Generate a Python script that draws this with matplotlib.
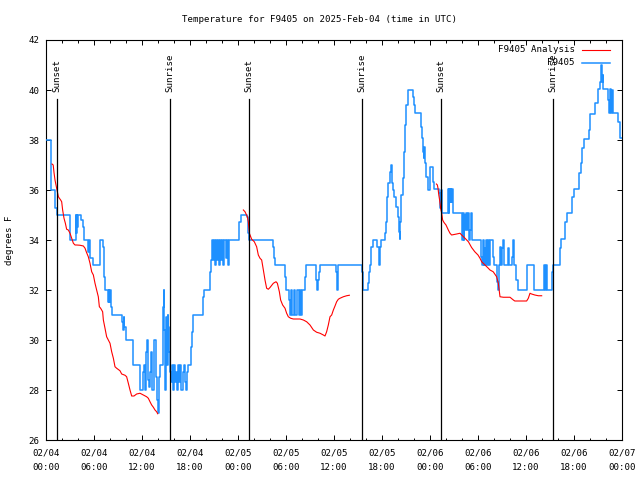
import numpy as np
import matplotlib
matplotlib.use("Agg")
import matplotlib.pyplot as plt
from matplotlib.lines import Line2D
from datetime import datetime, timedelta

# ---------------- data (hours since 2025-02-04 00:00 UTC, deg F) ----------------
# station observations (step series): (hour, temperature)
obs = [(0, 38.0), (0.58, 37.5), (0.67, 36.0), (1.125, 35.3), (1.42, 35.0), (2.96, 34.0), (3.75, 35.0),
       (3.8, 34.3), (3.85, 35.0), (3.92, 34.5), (4.0, 35.0), (4.42, 34.8), (4.58, 34.5), (4.75, 34.0),
       (5.29, 33.5), (5.4, 34.0), (5.5, 33.3), (5.875, 33.0), (6.75, 34.0), (7.08, 33.7), (7.25, 32.5),
       (7.42, 32.0), (7.75, 31.5), (7.83, 32.0), (7.92, 31.5), (8.0, 32.0), (8.08, 31.3), (8.21, 31.0),
       (9.54, 30.7), (9.62, 30.4), (9.7, 30.9), (9.8, 30.5), (10.0, 30.0), (10.83, 29.0), (11.8, 28.0),
       (12.125, 28.7), (12.2, 29.0), (12.33, 28.3), (12.42, 28.0), (12.54, 29.5), (12.67, 30.0),
       (12.79, 28.4), (12.9, 28.1), (13.0, 28.7), (13.08, 29.5), (13.21, 29.0), (13.29, 28.0),
       (13.5, 30.0), (13.79, 28.5), (13.92, 27.6), (14.0, 27.07), (14.125, 28.5), (14.21, 29.0),
       (14.625, 31.3), (14.71, 32.0), (14.79, 30.4), (14.875, 28.0), (14.96, 30.9), (15.08, 29.0),
       (15.21, 31.0), (15.29, 30.5), (15.375, 29.5), (15.54, 28.7), (15.67, 28.3), (15.79, 29.0),
       (15.92, 28.0), (16.04, 29.0), (16.17, 28.3), (16.29, 28.7), (16.42, 28.0), (16.54, 29.0),
       (16.67, 28.3), (16.79, 29.0), (16.92, 28.0), (17.17, 28.7), (17.29, 29.0), (17.42, 28.3),
       (17.54, 28.0), (17.67, 28.7), (17.79, 29.0), (18.08, 29.7), (18.21, 30.3), (18.375, 31.0),
       (19.67, 31.7), (19.79, 32.0), (20.46, 32.7), (20.625, 33.2), (20.71, 33.7), (20.79, 34.0),
       (20.92, 33.2), (21.04, 34.0), (21.17, 33.0), (21.29, 34.0), (21.42, 33.2), (21.54, 34.0),
       (21.67, 33.0), (21.79, 34.0), (21.92, 33.2), (22.04, 34.0), (22.17, 33.0), (22.29, 34.0),
       (22.54, 33.3), (22.67, 34.0), (22.79, 33.0), (22.92, 34.0), (24.17, 34.7), (24.375, 35.0),
       (25.08, 34.9), (25.21, 34.7), (25.29, 34.3), (25.42, 34.0), (28.42, 33.7), (28.54, 33.3),
       (28.67, 33.0), (29.92, 32.5), (30.0, 32.0), (30.42, 31.6), (30.54, 31.0), (30.67, 32.0),
       (30.75, 31.0), (30.96, 32.0), (31.08, 31.0), (31.375, 32.0), (31.67, 31.0), (31.79, 32.0),
       (31.92, 31.0), (32.0, 32.0), (32.42, 32.5), (32.5, 33.0), (33.75, 32.4), (33.875, 32.0),
       (34.0, 32.4), (34.17, 32.7), (34.29, 33.0), (36.25, 32.7), (36.375, 32.0), (36.46, 32.7),
       (36.54, 33.0), (39.46, 32.7), (39.58, 32.27), (39.67, 32.0), (40.21, 32.27), (40.33, 32.7),
       (40.46, 33.0), (40.625, 33.73), (40.83, 34.0), (41.375, 33.73), (41.58, 33.0), (41.71, 33.73),
       (41.875, 34.0), (42.375, 34.27), (42.5, 34.73), (42.625, 35.73), (42.79, 36.27), (42.96, 36.73),
       (43.125, 37.0), (43.21, 36.27), (43.375, 36.0), (43.54, 35.73), (43.75, 35.33), (43.96, 34.93),
       (44.08, 34.33), (44.21, 34.03), (44.29, 34.73), (44.42, 35.8), (44.58, 36.47), (44.71, 37.53),
       (44.875, 38.6), (45.04, 39.4), (45.21, 40.0), (45.875, 39.73), (46.04, 39.4), (46.17, 39.07),
       (46.875, 38.53), (47.0, 38.07), (47.125, 37.53), (47.21, 37.27), (47.29, 37.73), (47.42, 37.07),
       (47.54, 36.53), (47.71, 36.0), (48.0, 36.9), (48.33, 36.3), (48.54, 36.05), (49.17, 35.87),
       (49.29, 35.27), (49.375, 36.0), (49.5, 35.07), (50.21, 36.03), (50.33, 35.07), (50.42, 36.03),
       (50.5, 35.5), (50.58, 36.03), (50.67, 35.5), (50.75, 36.03), (50.83, 35.07), (52.0, 34.0),
       (52.08, 35.07), (52.21, 34.0), (52.29, 35.0), (52.42, 34.4), (52.5, 35.07), (52.625, 34.4),
       (52.71, 35.07), (52.83, 34.0), (53.0, 34.4), (53.125, 35.07), (53.25, 34.0), (54.375, 33.33),
       (54.5, 33.0), (54.58, 34.0), (54.71, 33.0), (54.79, 33.67), (54.92, 33.0), (55.0, 34.0),
       (55.125, 33.0), (55.21, 34.0), (55.33, 33.33), (55.42, 33.0), (55.54, 34.0), (55.83, 33.33),
       (56.04, 33.0), (56.33, 32.33), (56.46, 32.0), (56.58, 33.0), (56.75, 33.73), (56.875, 33.0),
       (57.0, 33.67), (57.17, 34.0), (57.29, 33.0), (57.71, 33.67), (57.92, 33.0), (58.25, 33.33),
       (58.42, 34.0), (58.54, 33.0), (58.75, 32.4), (58.96, 32.0), (60.125, 33.0), (60.96, 32.0),
       (62.21, 33.0), (62.375, 32.0), (62.5, 33.0), (62.625, 32.0), (63.21, 32.7), (63.33, 33.0),
       (64.29, 33.67), (64.375, 34.03), (64.875, 34.7), (65.125, 35.07), (65.71, 35.73), (65.96, 36.03),
       (66.67, 36.67), (66.875, 37.07), (67.0, 37.67), (67.21, 38.03), (67.92, 38.4), (68.04, 39.04),
       (68.625, 39.47), (69.04, 40.03), (69.2, 40.3), (69.375, 41.0), (69.46, 40.6), (69.54, 40.33),
       (69.6, 40.6), (69.67, 40.03), (70.29, 39.6), (70.42, 39.07), (70.54, 40.03), (70.625, 39.07),
       (70.7, 40.0), (70.83, 39.07), (71.54, 38.73), (71.71, 38.07), (72.0, 38.07)]

# analysis (three separate overnight segments)
ana_seg1 = [(0.75, 37.04), (0.9, 37.0), (1.0, 36.7), (1.125, 36.4), (1.25, 36.2), (1.42, 35.93),
            (1.55, 35.73), (1.67, 35.67), (1.83, 35.6), (1.96, 35.53), (2.08, 35.2), (2.25, 34.87),
            (2.42, 34.67), (2.58, 34.43), (2.79, 34.4), (3.0, 34.27), (3.21, 34.07), (3.42, 33.87),
            (3.63, 33.8), (3.83, 33.8), (4.25, 33.79), (4.67, 33.76), (4.88, 33.67), (5.08, 33.49),
            (5.29, 33.33), (5.5, 33.07), (5.71, 32.73), (5.92, 32.6), (6.125, 32.27), (6.33, 32.0),
            (6.54, 31.73), (6.67, 31.33), (6.83, 31.27), (7.08, 31.13), (7.17, 30.8), (7.375, 30.47),
            (7.58, 30.13), (7.79, 30.0), (8.0, 29.87), (8.21, 29.53), (8.42, 29.27), (8.625, 28.93),
            (8.83, 28.87), (9.25, 28.77), (9.46, 28.64), (9.875, 28.59), (10.08, 28.53), (10.29, 28.27),
            (10.5, 28.0), (10.71, 27.76), (11.0, 27.76), (11.33, 27.84), (11.75, 27.87), (12.17, 27.8),
            (12.58, 27.73), (12.79, 27.67), (13.0, 27.53), (13.21, 27.4), (13.42, 27.31), (13.625, 27.2),
            (13.83, 27.13), (13.96, 27.05)]
ana_seg2 = [(24.67, 35.2), (24.875, 35.13), (25.17, 34.93), (25.29, 34.73), (25.42, 34.27), (25.71, 34.03),
            (26.04, 33.93), (26.33, 33.73), (26.54, 33.4), (26.75, 33.27), (26.96, 33.2), (27.17, 32.8),
            (27.375, 32.4), (27.58, 32.07), (27.79, 32.03), (28.0, 32.1), (28.42, 32.27), (28.75, 32.33),
            (28.92, 32.27), (29.17, 31.93), (29.33, 31.6), (29.58, 31.4), (29.875, 31.27), (30.08, 31.07),
            (30.29, 30.93), (30.58, 30.87), (30.92, 30.84), (31.75, 30.84), (32.17, 30.8), (32.58, 30.73),
            (33.0, 30.6), (33.42, 30.4), (33.83, 30.31), (34.25, 30.27), (34.67, 30.2), (34.875, 30.16),
            (35.08, 30.33), (35.29, 30.6), (35.5, 30.93), (35.71, 31.0), (35.92, 31.2), (36.125, 31.36),
            (36.33, 31.53), (36.54, 31.63), (36.75, 31.67), (37.17, 31.73), (37.58, 31.77), (37.92, 31.79)]
ana_seg3 = [(48.8, 36.24), (48.92, 36.2), (49.0, 36.07), (49.1, 35.8), (49.2, 35.6), (49.33, 35.27),
            (49.46, 35.07), (49.58, 34.8), (49.75, 34.7), (50.0, 34.6), (50.29, 34.4), (50.5, 34.27),
            (50.7, 34.2), (51.33, 34.24), (51.75, 34.27), (51.96, 34.2), (52.375, 34.07), (52.8, 33.93),
            (53.2, 33.7), (53.6, 33.53), (54.0, 33.4), (54.25, 33.27), (54.46, 33.13), (54.875, 33.0),
            (55.29, 32.87), (55.5, 32.8), (55.9, 32.73), (56.33, 32.53), (56.54, 32.27), (56.75, 31.73),
            (57.17, 31.71), (58.0, 31.71), (58.42, 31.6), (58.6, 31.56), (60.08, 31.56), (60.29, 31.67),
            (60.5, 31.87), (60.7, 31.84), (61.1, 31.8), (61.54, 31.77), (61.96, 31.77)]

sun_hours = [1.42, 15.53, 25.42, 39.53, 49.4, 63.42]
sun_labels = ["Sunset", "Sunrise", "Sunset", "Sunrise", "Sunset", "Sunrise"]

start = datetime(2025, 2, 4, 0, 0)
tick_hours = list(range(0, 73, 6))
tick_labels = [(start + timedelta(hours=h)).strftime("%m/%d\n%H:%M") for h in tick_hours]

title = "Temperature for F9405 on 2025-Feb-04 (time in UTC)"
series_names = ["F9405 Analysis", "F9405"]
colors = ["#ff0000", "#1e90ff"]

# ---------------- figure ----------------
plt.rcParams["font.family"] = ["DejaVu Sans Mono"]
FS = 6.6

fig = plt.figure(figsize=(6.4, 4.8), dpi=100)
ax = fig.add_axes([46 / 640, 40 / 480, 576 / 640, 400 / 480])

oh, ot = zip(*obs)
ax.plot(oh, ot, drawstyle="steps-post", color=colors[1], lw=1.1, zorder=3)
for seg in (ana_seg1, ana_seg2, ana_seg3):
    sh, st = zip(*seg)
    ax.plot(sh, st, color=colors[0], lw=0.8, zorder=4)

for h, lab in zip(sun_hours, sun_labels):
    ax.plot([h, h], [26, 39.65], color="black", lw=0.9, zorder=5)
    ax.text(h, 39.9, lab, rotation=90, ha="center", va="bottom", fontsize=FS, zorder=6)

ax.set_xlim(0, 72)
ax.set_ylim(26, 42)
ax.set_xticks(tick_hours)
ax.set_xticklabels(tick_labels, fontsize=FS)
ax.set_xticks(range(0, 73, 2), minor=True)
ax.set_yticks(range(26, 43, 2))
ax.set_yticklabels([str(v) for v in range(26, 43, 2)], fontsize=FS)
for lbl in ax.get_xticklabels():
    lbl.set_linespacing(1.8)
ax.tick_params(which="both", direction="in", top=True, right=True, width=0.7, color="black")
ax.tick_params(which="major", length=3.6, pad=4.5)
ax.tick_params(axis="x", which="major", pad=5.8)
ax.tick_params(which="minor", length=1.8)
for s in ax.spines.values():
    s.set_linewidth(0.8)

fig.text(0.5, 1 - 19 / 480, title, ha="center", va="center", fontsize=FS)
fig.text(10 / 640, 0.5, "degrees F", rotation=90, ha="center", va="center", fontsize=FS)

# legend (top right)
for i, (name, c) in enumerate(zip(series_names, colors)):
    yy = 1 - (49.5 + 13 * i) / 480
    fig.text(575 / 640, yy, name, ha="right", va="center", fontsize=FS)
    fig.add_artist(Line2D([582 / 640, 610 / 640], [yy, yy], color=c,
                          lw=0.8 if i == 0 else 1.1, transform=fig.transFigure))

fig.savefig("out.png", dpi=100)
